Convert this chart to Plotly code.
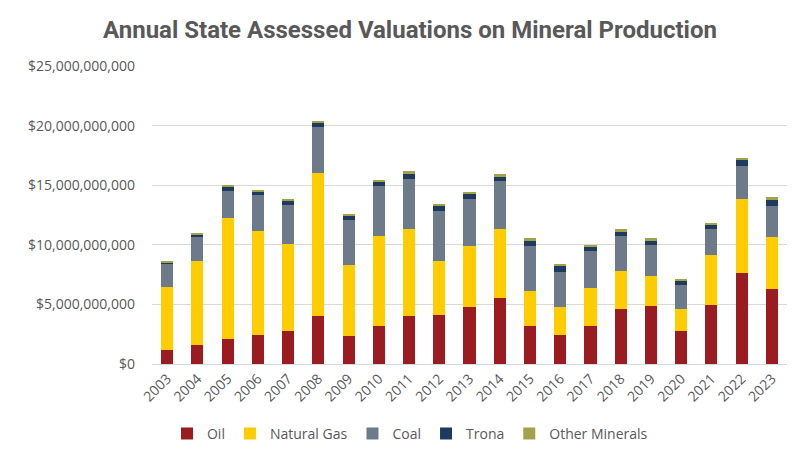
import plotly.graph_objects as go

years = [str(y) for y in range(2003, 2024)]
# segment values, in billions of dollars
oil_b = [1.17, 1.62, 2.12, 2.46, 2.77, 4.05, 2.37, 3.21, 4.05, 4.13, 4.78,
         5.50, 3.18, 2.43, 3.18, 4.64, 4.86, 2.77, 4.97, 7.60, 6.31]
gas_b = [5.28, 7.04, 10.14, 8.74, 7.29, 11.98, 5.90, 7.57, 7.26, 4.53, 5.14,
         5.81, 2.97, 2.35, 3.19, 3.18, 2.54, 1.81, 4.14, 6.23, 4.36]
coal_b = [1.96, 2.07, 2.24, 2.96, 3.26, 3.83, 3.80, 4.14, 4.25, 4.16, 3.93,
          4.03, 3.71, 2.96, 3.07, 2.91, 2.57, 2.01, 2.20, 2.76, 2.57]
trona_b = [0.14, 0.16, 0.36, 0.31, 0.42, 0.39, 0.39, 0.36, 0.39, 0.45, 0.42,
           0.36, 0.48, 0.50, 0.39, 0.36, 0.37, 0.42, 0.42, 0.53, 0.59]
other_b = [0.05, 0.09, 0.08, 0.11, 0.09, 0.11, 0.11, 0.14, 0.22, 0.14, 0.12,
           0.25, 0.22, 0.14, 0.14, 0.22, 0.22, 0.08, 0.11, 0.11, 0.14]

series = [
    ("Oil", oil_b, "#9B1C20"),
    ("Natural Gas", gas_b, "#FFCC00"),
    ("Coal", coal_b, "#6D7A89"),
    ("Trona", trona_b, "#1F3A60"),
    ("Other Minerals", other_b, "#A2A24A"),
]
tick_vals = [0, 5e9, 10e9, 15e9, 20e9, 25e9]
tick_text = ["$0", "$5,000,000,000", "$10,000,000,000", "$15,000,000,000",
             "$20,000,000,000", "$25,000,000,000"]

fig = go.Figure()
for name, vals, color in series:
    fig.add_trace(go.Bar(
        x=years, y=[v * 1e9 for v in vals], name=name,
        marker=dict(color=color, line=dict(width=0)),
    ))

fig.update_layout(
    barmode="stack",
    bargap=0.6,
    width=796, height=455,
    margin=dict(l=144, r=17, t=58, b=99, autoexpand=False),
    plot_bgcolor="white", paper_bgcolor="white",
    font=dict(family="Open Sans", color="#595959", size=14),
    title=dict(text="<b>Annual State Assessed Valuations on Mineral Production</b>",
               x=0.505, xref="container", xanchor="center", y=0.952, yref="container",
               yanchor="middle",
               font=dict(family="Roboto", size=24, color="#595959")),
    xaxis=dict(tickangle=-45, showline=True, linecolor="#D9D9D9", linewidth=1,
               ticks="", tickfont=dict(size=14, color="#595959"), showgrid=False,
               automargin=False),
    yaxis=dict(range=[0, 25e9], tickvals=tick_vals, ticktext=tick_text,
               gridcolor="#D9D9D9", gridwidth=1, zeroline=False, automargin=False,
               tickfont=dict(size=14, color="#595959"), ticklabelstandoff=16),
    legend=dict(orientation="h", x=0.505, xref="container", xanchor="center",
                y=0.064, yref="container", yanchor="middle",
                font=dict(size=14, color="#595959"), itemwidth=30,
                traceorder="normal"),
)

fig.write_html("out.html")
